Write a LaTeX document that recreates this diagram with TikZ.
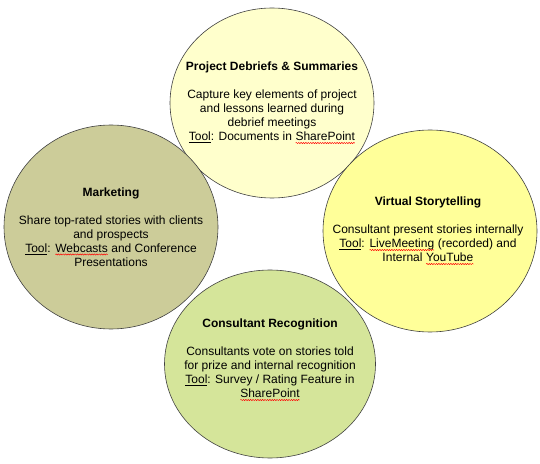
\documentclass[tikz,border=0pt]{standalone}
\usepackage{fontspec}
\setmainfont{Liberation Sans}
\usetikzlibrary{shapes.geometric,decorations.pathmorphing}

\definecolor{debriefyellow}{HTML}{FFFFCC}
\definecolor{marketingolive}{HTML}{CCCC99}
\definecolor{virtualyellow}{HTML}{FFFF99}
\definecolor{recoggreen}{HTML}{D5E59A}

% red wavy mark under words
\newcommand\spellwave[1]{\tikz[baseline=(sw.base)]{%
    \node[inner sep=0pt,outer sep=0pt] (sw) {#1};
    \draw[red,line width=0.5bp,decorate,decoration={snake,amplitude=0.6bp,segment length=2.4bp}]
        ([yshift=-2.2bp]sw.base west) -- ([yshift=-2.2bp]sw.base east);}}

\begin{document}
\begin{tikzpicture}[x=1bp,y=-1bp,
    bubble/.style={ellipse,draw=black!75,line width=0.6bp,inner sep=0pt},
    bubbletext/.style={align=center,inner sep=0pt,
        font=\fontsize{12bp}{14bp}\selectfont}]
    \useasboundingbox (0,0) rectangle (540,464);

    \node[bubble,fill=debriefyellow,minimum width=204bp,minimum height=190bp] (debrief) at (272,103) {};
    \node[bubble,fill=marketingolive,minimum width=214bp,minimum height=204bp] (marketing) at (111,227) {};
    \node[bubble,fill=virtualyellow,minimum width=214bp,minimum height=202bp] (virtual) at (430,231) {};
    \node[bubble,fill=recoggreen,minimum width=211bp,minimum height=188bp] (recog) at (270,364) {};

    \node[bubbletext] (debrieftxt) at (debrief) {\textbf{Project Debriefs \& Summaries}\\[14bp]
        Capture key elements of project\\ and lessons learned during\\ debrief meetings\\
        \underline{Tool}: Documents in \spellwave{SharePoint}};
    \node[bubbletext] (marketingtxt) at (marketing) {\textbf{Marketing}\\[14bp]
        Share top-rated stories with clients\\ and prospects\\
        \underline{Tool}: \spellwave{Webcasts} and Conference\\ Presentations};
    \node[bubbletext] (virtualtxt) at ([xshift=-2bp]virtual.center) {\textbf{Virtual Storytelling}\\[14bp]
        Consultant present stories internally\\
        \underline{Tool}: \spellwave{LiveMeeting} (recorded) and\\ Internal \spellwave{YouTube}};
    \node[bubbletext] (recogtxt) at ([yshift=4bp]recog.center) {\textbf{Consultant Recognition}\\[14bp]
        Consultants vote on stories told\\ for prize and internal recognition\\
        \underline{Tool}: Survey / Rating Feature in\\ \spellwave{SharePoint}};
\end{tikzpicture}
\end{document}
